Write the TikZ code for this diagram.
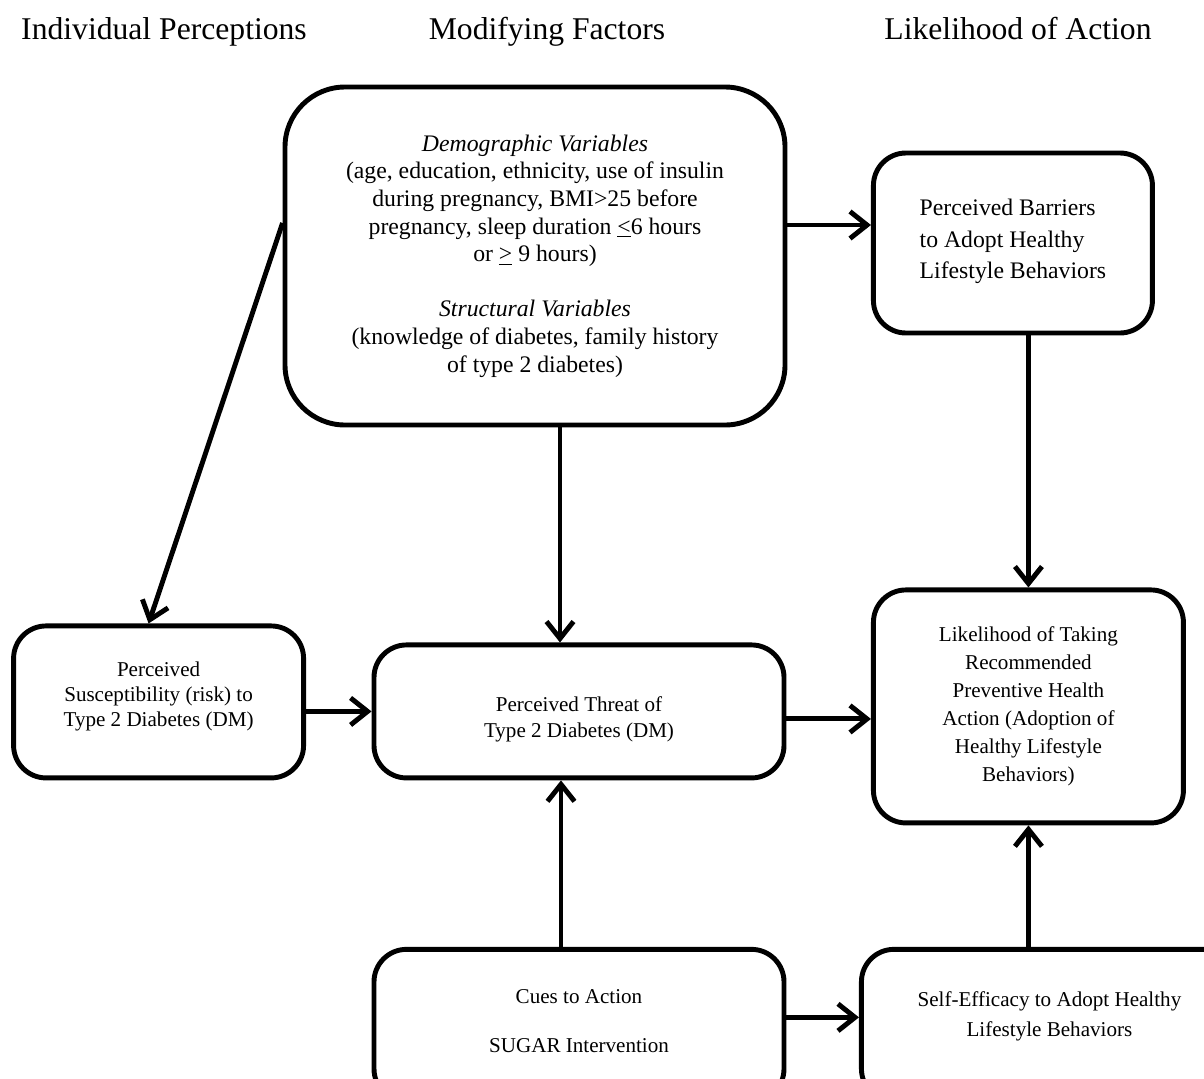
\documentclass[tikz,border=0pt]{standalone}
\usepackage{fontspec}
\setmainfont{Liberation Serif}
\usepackage{tikz}
\usetikzlibrary{arrows.meta,positioning,calc}
\tikzset{
  hbm/head/.style={font=\fontsize{18}{21}\selectfont, anchor=base, inner sep=0pt},
  hbm/box/.style={draw, line width=2.8pt, rounded corners=6.5mm, align=center, inner sep=2pt},
  hbm/bigbox/.style={hbm/box, rounded corners=12mm},
  hbm/txtbig/.style={font=\fontsize{13.5}{15.7}\selectfont},
  hbm/txt/.style={font=\fontsize{12}{14.5}\selectfont},
  hbm/arrow/.style={line width=2.8pt, -{Straight Barb[length=3.4mm,width=5.4mm]}}
}

\begin{document}
\begin{tikzpicture}
  \clip (0,0) rectangle (24.08,-21.56);

  % column headings
  \node[hbm/head] (hindiv) at (3.28,-0.78) {Individual Perceptions};
  \node[hbm/head] (hmod) at (10.94,-0.78) {Modifying Factors};
  \node[hbm/head] (hlike) at (20.36,-0.78) {Likelihood of Action};

  % boxes
  \node[hbm/bigbox, hbm/txtbig, minimum width=10cm, minimum height=6.76cm] (demo) at (10.7,-5.12)
    {\textit{Demographic Variables}\\
     (age, education, ethnicity, use of insulin\\
     during pregnancy, BMI>25 before\\
     pregnancy, sleep duration \underline{<}6 hours\\
     or \underline{>} 9 hours)\\[15.7pt]
     \textit{Structural Variables}\\
     (knowledge of diabetes, family history\\
     of type 2 diabetes)};
  \node[hbm/box, align=left, font=\fontsize{13.5}{18}\selectfont, minimum width=5.58cm, minimum height=3.6cm,
    below right=1.32cm and 1.67cm of demo.north east, anchor=north west] (barriers)
    {Perceived Barriers\\ to Adopt Healthy\\ Lifestyle Behaviors\\[-13.4pt]};
  \node[hbm/box, font=\fontsize{12}{16}\selectfont, minimum width=6.2cm, minimum height=4.66cm,
    below=5.04cm of barriers.south west, anchor=north west] (likely)
    {Likelihood of Taking\\ Recommended\\ Preventive Health\\ Action (Adoption of\\ Healthy Lifestyle\\ Behaviors)};
  \node[hbm/box, font=\fontsize{12}{15.2}\selectfont, minimum width=8.2cm, minimum height=2.66cm,
    left=1.69cm of likely, yshift=-1mm] (threat)
    {\rule{0pt}{17.4pt}Perceived Threat of\\ Type 2 Diabetes (DM)};
  \node[hbm/box, font=\fontsize{12}{14.2}\selectfont, minimum width=5.8cm, minimum height=3.04cm,
    left=1.31cm of threat.south west, anchor=south east] (suscept)
    {Perceived\\ Susceptibility (risk) to\\ Type 2 Diabetes (DM)\\[-5pt]};
  \node[hbm/box, hbm/txt, minimum width=8.2cm, minimum height=3.04cm,
    below=3.33cm of threat] (cues)
    {Cues to Action\\[13pt] SUGAR Intervention\\[-9.5pt]};
  \node[hbm/box, font=\fontsize{12}{17}\selectfont, minimum width=7.52cm, minimum height=3.04cm,
    right=1.45cm of cues.north east, anchor=north west] (selfeff)
    {Self-Efficacy to Adopt Healthy\\ Lifestyle Behaviors\\[-4.6pt]};

  % arrows
  \draw[hbm/arrow] ([yshift=6.2mm]demo.east) -- ([yshift=6.2mm]demo.east -| barriers.west);
  \draw[hbm/arrow] ([yshift=6.6mm]demo.west) -- ([xshift=-2mm]suscept.north);
  \draw[hbm/arrow] ([xshift=5mm]demo.south) -- ([xshift=5mm]demo.south |- threat.north);
  \draw[hbm/arrow] (barriers.south -| likely.north) -- (likely.north);
  \draw[hbm/arrow] (threat.west -| suscept.east) -- (threat.west);
  \draw[hbm/arrow] ([yshift=-1.5mm]threat.east) -- ([yshift=-1.5mm]threat.east -| likely.west);
  \draw[hbm/arrow] ([xshift=-3.6mm]cues.north) -- ([xshift=-3.6mm]threat.south);
  \draw[hbm/arrow] ([yshift=1.6mm]cues.east) -- ([yshift=1.6mm]cues.east -| selfeff.west);
  \draw[hbm/arrow] (selfeff.north -| likely.south) -- (likely.south);
\end{tikzpicture}
\end{document}
